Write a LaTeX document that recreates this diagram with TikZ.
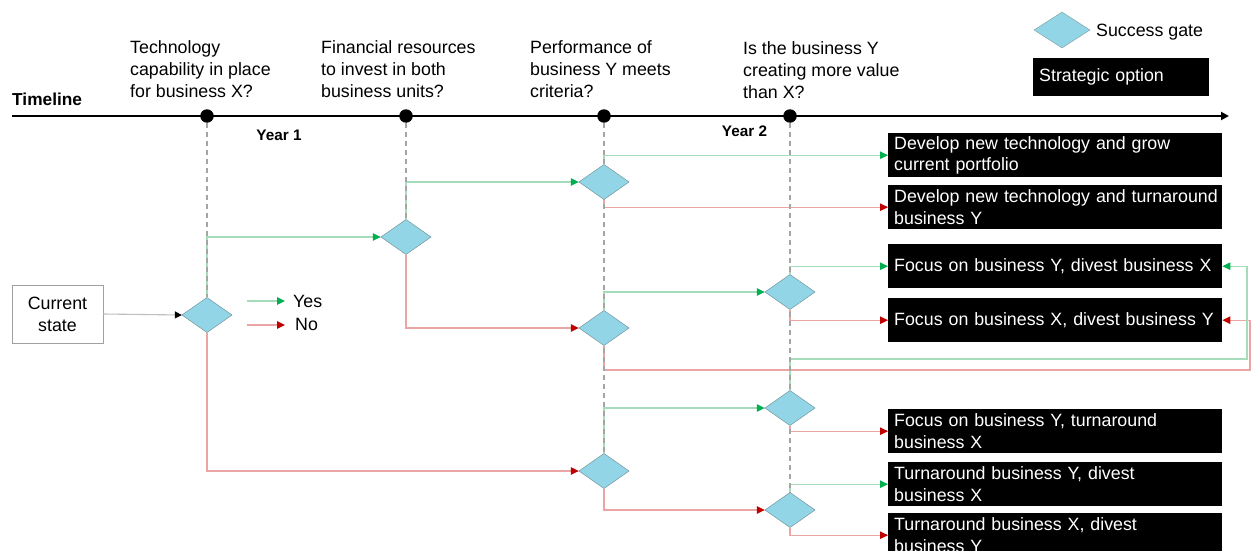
\documentclass[tikz,border=0pt]{standalone}
\usepackage{fontspec}
\setmainfont{Liberation Sans}
\usetikzlibrary{shapes.geometric,arrows.meta}
\definecolor{gatefill}{RGB}{146,213,230}
\definecolor{gateedge}{RGB}{125,155,165}
\definecolor{yesline}{RGB}{165,220,185}
\definecolor{yestip}{RGB}{0,176,80}
\definecolor{noline}{RGB}{235,165,165}
\definecolor{notip}{RGB}{192,0,0}
\definecolor{dashgray}{RGB}{165,165,165}
\definecolor{boxgray}{RGB}{160,160,160}
\newcommand\myoptfont{\fontsize{17.8pt}{21.3pt}\selectfont}
\newcommand\mylabfont{\fontsize{17.8pt}{22pt}\selectfont}
\begin{document}
\begin{tikzpicture}[x=1pt,y=-1pt,
  gate/.style={diamond, draw=gateedge, fill=gatefill, minimum width=50pt, minimum height=35pt, inner sep=0pt},
  optbox/.style={fill=black, text=white, anchor=north west, minimum height=44pt, text width=322pt, inner xsep=6pt, inner ysep=0pt, align=left, font=\myoptfont},
  qlabel/.style={anchor=north west, inner sep=0pt, align=left, font=\mylabfont},
  tdot/.style={circle, fill=black, minimum size=13.5pt, inner sep=0pt},
  guide/.style={draw=dashgray, line width=1.5pt, dash pattern=on 5pt off 4pt},
  yesarrow/.style={draw=yesline, line width=1.1pt, -{Triangle[length=8pt,width=7.5pt,color=yestip]}},
  noarrow/.style={draw=noline, line width=1.1pt, -{Triangle[length=8pt,width=7.5pt,color=notip]}},
  yearlab/.style={anchor=base, inner sep=0pt, font=\fontsize{15.3pt}{18pt}\selectfont\bfseries}
]
\useasboundingbox (0,0) rectangle (1253,551);
\fill[white] (0,0) rectangle (1253,551);

% question labels
\node[qlabel] (q1) at (130,40) {Technology\\capability in place\\for business X?};
\node[qlabel] (q2) at (321,40) {Financial resources\\to invest in both\\business units?};
\node[qlabel] (q3) at (530,40) {Performance of\\business Y meets\\criteria?};
\node[qlabel] (q4) at (743,41) {Is the business Y\\creating more value\\than X?};

% timeline
\node[anchor=base west, inner sep=0pt, font=\fontsize{17.3pt}{20pt}\selectfont\bfseries] (tl) at (12,106) {Timeline};
\coordinate (tl0) at (12,116);
\coordinate (tl1) at (1229,116);
\draw[line width=2pt, -{Triangle[length=8pt,width=8pt]}] (tl0) -- (tl1);
\node[yearlab] (y1) at (279,140) {Year 1};
\node[yearlab] (y2) at (744.5,136) {Year 2};

% dots
\node[tdot] (t1) at (207,116) {};
\node[tdot] (t2) at (406,116) {};
\node[tdot] (t3) at (604,116) {};
\node[tdot] (t4) at (790,116) {};

% gate positions
\path (207,315) coordinate (pD1) (406,237) coordinate (pD2) (604,182) coordinate (pD3)
      (604,328) coordinate (pD4) (790,292) coordinate (pD5) (790,408) coordinate (pD6)
      (604,471) coordinate (pD7) (790,510) coordinate (pD8);
\node[gate] (D1) at (pD1) {};
\node[gate] (D2) at (pD2) {};
\node[gate] (D3) at (pD3) {};
\node[gate] (D4) at (pD4) {};
\node[gate] (D5) at (pD5) {};
\node[gate] (D6) at (pD6) {};
\node[gate] (D7) at (pD7) {};
\node[gate] (D8) at (pD8) {};

% strategic options
\node[optbox] (B1) at (888,133) {\mbox{Develop new technology and grow}\\\mbox{current portfolio}};
\node[optbox] (B2) at (888,185) {\mbox{Develop new technology and turnaround}\\\mbox{business Y}};
\node[optbox] (B3) at (888,244) {\mbox{Focus on business Y, divest business X}};
\node[optbox] (B4) at (888,298) {\mbox{Focus on business X, divest business Y}};
\node[optbox] (B5) at (888,409) {\mbox{Focus on business Y, turnaround}\\\mbox{business X}};
\node[optbox] (B6) at (888,462) {\mbox{Turnaround business Y, divest}\\\mbox{business X}};
\node[optbox] (B7) at (888,513) {\mbox{Turnaround business X, divest}\\\mbox{business Y}};

% current state
\node[draw=boxgray, line width=0.8pt, minimum width=91pt, minimum height=58pt, inner sep=0pt, align=center, font=\mylabfont] (cs) at (57.5,314) {Current\\state};

\coordinate (r1) at (1250,370);
\coordinate (g1) at (1247,359);

% connectors
\draw[draw=black!25, line width=1.1pt, -{Triangle[length=7pt,width=7pt,color=black]}] (cs.east) -- (D1.west);

\draw[yesarrow] (D1.north) |- (D2.west);
\draw[noarrow]  (D1.south) |- (D7.west);
\draw[yesarrow] (D2.north) |- (D3.west);
\draw[noarrow]  (D2.south) |- (D4.west);
\draw[yesarrow] (D3.north) |- (B1.west);
\draw[noarrow]  (D3.south) |- (B2.west);
\draw[yesarrow] (D4.north) |- (D5.west);
\draw[noarrow]  (D4.south) |- (r1) |- (B4.east);
\draw[yesarrow] (D5.north) |- (B3.west);
\draw[noarrow]  (D5.south) |- (B4.west);
\draw[yesarrow] (D6.north) |- (g1) |- (B3.east);
\draw[noarrow]  (D6.south) |- (B5.west);
\draw[yesarrow] (D7.north) |- (D6.west);
\draw[noarrow]  (D7.south) |- (D8.west);
\draw[yesarrow] (D8.north) |- (B6.west);
\draw[noarrow]  (D8.south) |- (B7.west);

% guides over the connectors
\draw[guide] (t1) -- (D1.north);
\draw[guide] (t2) -- (D2.north);
\draw[guide] (t3) -- (D7.north);
\draw[guide] (t4) -- (D8.north);

% gates on top
\foreach \g in {D1,D2,D3,D4,D5,D6,D7,D8}{
  \node[gate] at (p\g) {};
}

% legend
\coordinate (ly0) at (247,301);
\coordinate (ly1) at (285,301);
\coordinate (ln0) at (247,325);
\coordinate (ln1) at (285,325);
\draw[yesarrow] (ly0) -- (ly1);
\draw[noarrow] (ln0) -- (ln1);
\node[anchor=base west, inner sep=0pt, font=\mylabfont] (lyes) at (293,307) {Yes};
\node[anchor=base west, inner sep=0pt, font=\mylabfont] (lno) at (295,330) {No};

\node[gate, minimum width=56pt, minimum height=36pt] (lg) at (1062,30) {};
\node[anchor=base west, inner sep=0pt, font=\mylabfont] (lgt) at (1096,37) {Success gate};
\node[optbox, text width=164pt, minimum height=38pt] (lo) at (1033,58) {Strategic option};
\end{tikzpicture}
\end{document}
